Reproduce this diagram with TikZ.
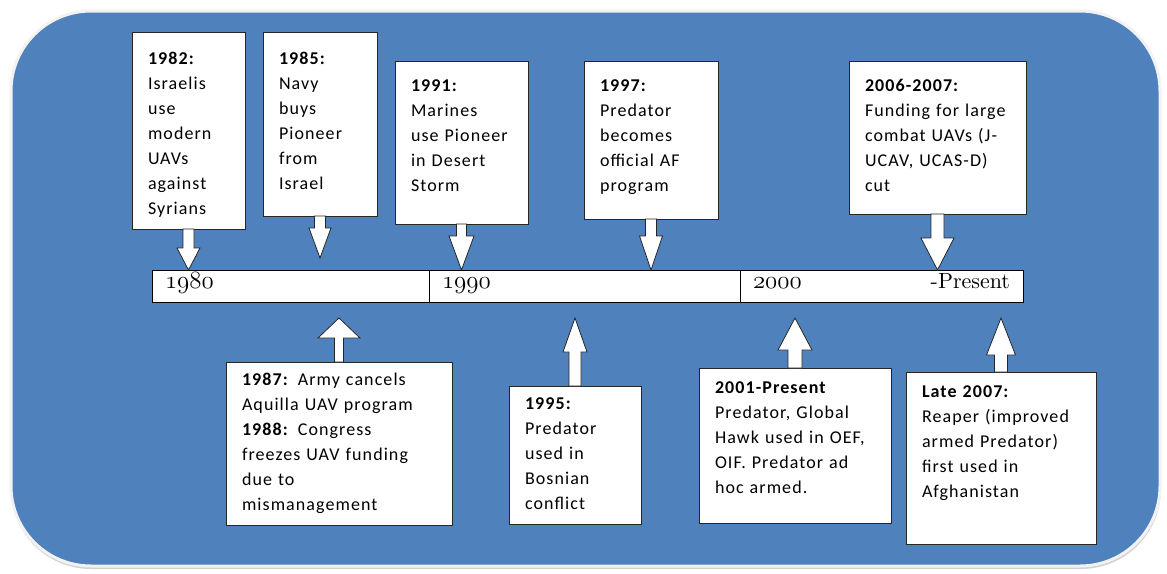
\documentclass[tikz,border=0pt]{standalone}
\usepackage{fontspec}
\setmainfont{Carlito}[LetterSpace=6]
\newfontfamily\yearfont{lmroman10-regular}[Extension=.otf]
\newcommand{\yrnum}[1]{{\fontsize{26}{26}\usefont{OML}{lmm}{m}{it}#1}}
\usepackage{tikz}
\usetikzlibrary{
  calc,
  shadows
}
\definecolor{bezelblue}{RGB}{79,129,189}

\tikzset{
  evbox/.style={draw=black!85, line width=0.8pt, fill=white, anchor=north west,
    inner xsep=16pt, inner ysep=0pt, outer sep=0pt, align=left,
    drop shadow={shadow xshift=1.2pt, shadow yshift=-1.2pt, fill=black!60, opacity=0.5},
    font=\fontsize{18}{25}\selectfont},
  yearbar/.style={draw=black, line width=0.8pt, fill=white, anchor=north west,
    inner xsep=13pt, inner ysep=0pt, outer sep=0pt, align=left,
    text height=18pt, text depth=14pt, font=\yearfont\fontsize{22}{22}\selectfont},
  blockarr/.style n args={3}{draw=black!85, fill=white, line width=0.8pt,
    to path={let \p1=(\tikztostart), \p2=(\tikztotarget),
      \p3=($(\tikztotarget)!#3!(\tikztostart)$) in
      (\x1-#1,\y1) -- (\x1-#1,\y3) -- (\x1-#2,\y3) -- (\x1,\y2)
      -- (\x1+#2,\y3) -- (\x1+#1,\y3) -- (\x1+#1,\y1) -- cycle}}
}

\begin{document}
\begin{tikzpicture}[x=1pt, y=-1pt]
    \useasboundingbox (0,0) rectangle (1167,573);
    % background panel
    \fill[gray!35, rounded corners=80pt] (11,13) rectangle (1161,569);
    \draw[gray!10, line width=3pt, fill=bezelblue, rounded corners=80pt] (11,11) rectangle (1160,566);

    % timeline bar
    \node[yearbar, text width=251pt] (seg80) at (152,270) {\yrnum{1980}};
    \node[yearbar, text width=285pt] (seg90) at (seg80.north east) {\yrnum{1990}};
    \node[yearbar, text width=257pt] (seg00) at (seg90.north east) {\yrnum{2000}\hfill{}-Present};

    % events above the bar
    \node[evbox, text width=81pt, text height=32pt, text depth=165pt] (e82) at (132,32)
        {\textbf{1982:}\\Israelis\\use\\modern\\UAVs\\against\\Syrians};
    \node[evbox, text width=82pt, text height=32pt, text depth=152pt] (e85) at (263,32)
        {\textbf{1985:}\\Navy\\buys\\Pioneer\\from\\Israel};
    \node[evbox, text width=101pt, text height=30pt, text depth=133pt] (e91) at (395,61)
        {\textbf{1991:}\\Marines\\use Pioneer\\in Desert\\Storm};
    \node[evbox, text width=102pt, text height=30pt, text depth=128pt] (e97) at (584,61)
        {\textbf{1997:}\\Predator\\becomes\\official AF\\program};
    \node[evbox, text width=145pt, text height=30pt, text depth=123pt] (e06) at (849,61)
        {\textbf{2006-2007:}\\Funding for large\\combat UAVs (J-\\UCAV, UCAS-D)\\cut};

    % events below the bar
    \node[evbox, text width=194pt, text height=23pt, text depth=140pt] (e87) at (226,362)
        {\textbf{1987:} Army cancels\\Aquilla UAV program\\\textbf{1988:} Congress\\freezes UAV funding\\due to\\mismanagement};
    \node[evbox, text width=100pt, text height=23pt, text depth=115pt] (e95) at (509,386)
        {\textbf{1995:}\\Predator\\used in\\Bosnian\\conflict};
    \node[evbox, text width=160pt, text height=25pt, text depth=130pt] (e01) at (699,368)
        {\textbf{2001-Present}\\Predator, Global\\Hawk used in OEF,\\OIF. Predator ad\\hoc armed.};
    \node[evbox, text width=158pt, text height=25pt, text depth=147pt] (e07) at (906,372)
        {\textbf{Late 2007:}\\Reaper (improved\\armed Predator)\\first used in\\Afghanistan};

    % arrow tips
    \coordinate (t82) at (e82.south |- seg80.north);
    \coordinate (t85) at (e85.south |- 0,258);
    \coordinate (t91) at (e91.south |- seg90.north);
    \coordinate (t97) at (e97.south |- seg90.north);
    \coordinate (t06) at (e06.south |- seg00.north);
    \coordinate (t87) at ($(e87.north |- seg80.south)+(0,16)$);
    \coordinate (t95) at ($(e95.north |- seg90.south)+(0,16)$);
    \coordinate (t01) at ($(e01.north |- seg00.south)+(0,16)$);
    \coordinate (t07) at ($(e07.north |- seg00.south)+(0,16)$);

    % block arrows
    \draw[blockarr={5.5pt}{11.5pt}{22pt}] (e82.south) to (t82);
    \draw[blockarr={5.5pt}{11pt}{30pt}] (e85.south) to (t85);
    \draw[blockarr={5pt}{12.5pt}{34pt}] (e91.south) to (t91);
    \draw[blockarr={5.5pt}{11.5pt}{34pt}] (e97.south) to (t97);
    \draw[blockarr={6.5pt}{16.5pt}{32pt}] (e06.south) to (t06);
    \draw[blockarr={4.5pt}{21pt}{20pt}] (e87.north) to (t87);
    \draw[blockarr={6pt}{12pt}{34pt}] (e95.north) to (t95);
    \draw[blockarr={7pt}{17pt}{32pt}] (e01.north) to (t01);
    \draw[blockarr={6.5pt}{14.5pt}{37pt}] (e07.north) to (t07);
\end{tikzpicture}
\end{document}
